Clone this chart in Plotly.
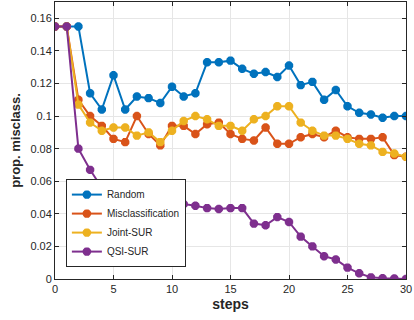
import plotly.graph_objects as go

steps = list(range(31))

random_vals = [0.155, 0.155, 0.155, 0.114, 0.104, 0.125, 0.104, 0.112, 0.111, 0.108,
               0.118, 0.112, 0.114, 0.133, 0.133, 0.134, 0.129, 0.126, 0.127, 0.124,
               0.131, 0.119, 0.121, 0.110, 0.116, 0.106, 0.102, 0.101, 0.099, 0.100,
               0.100]
miscl_vals = [0.155, 0.155, 0.110, 0.100, 0.094, 0.086, 0.084, 0.100, 0.089, 0.082,
              0.094, 0.094, 0.089, 0.095, 0.096, 0.089, 0.086, 0.085, 0.093, 0.083,
              0.083, 0.087, 0.089, 0.087, 0.091, 0.087, 0.086, 0.086, 0.087, 0.076,
              0.075]
joint_vals = [0.155, 0.155, 0.107, 0.096, 0.091, 0.093, 0.093, 0.088, 0.090, 0.084,
              0.091, 0.097, 0.100, 0.098, 0.094, 0.094, 0.091, 0.098, 0.100, 0.106,
              0.106, 0.096, 0.091, 0.088, 0.088, 0.086, 0.083, 0.082, 0.078, 0.077,
              0.075]
qsi_vals = [0.155, 0.155, 0.080, 0.067, 0.056, 0.054, 0.0515, 0.0515, 0.050, 0.050,
            0.048, 0.046, 0.045, 0.0435, 0.043, 0.0435, 0.0435, 0.034, 0.033, 0.038,
            0.035, 0.026, 0.020, 0.014, 0.012, 0.007, 0.0035, 0.001, 0.0005, 0.0003,
            0.0]

series = [("Random", random_vals, "#0072BD"),
          ("Misclassification", miscl_vals, "#D95319"),
          ("Joint-SUR", joint_vals, "#EDB120"),
          ("QSI-SUR", qsi_vals, "#7E2F8E")]

yticks = [0, 0.02, 0.04, 0.06, 0.08, 0.1, 0.12, 0.14, 0.16]
yticklabels = ["0", "0.02", "0.04", "0.06", "0.08", "0.1", "0.12", "0.14", "0.16"]
xticks = [0, 5, 10, 15, 20, 25, 30]

fig = go.Figure()
for name, vals, col in series:
    fig.add_trace(go.Scatter(
        x=steps, y=vals, name=name, mode="lines+markers",
        line=dict(color=col, width=2),
        marker=dict(symbol="asterisk-open", size=7, color=col,
                    line=dict(color=col, width=3)),
    ))

axis_common = dict(
    showline=True, linecolor="#262626", linewidth=1, mirror="ticks",
    ticks="inside", ticklen=4, tickcolor="#262626", automargin=False,
    showgrid=True, gridcolor="#e6e6e6", gridwidth=1, zeroline=False,
    tickfont=dict(family="Liberation Sans, Arial", size=11, color="#262626"),
)

fig.update_xaxes(range=[0, 30], tickvals=xticks,
                 title=dict(text="<b>steps</b>", standoff=4,
                            font=dict(family="Liberation Sans, Arial", size=14, color="#262626")),
                 **axis_common)
fig.update_yaxes(range=[0, 0.17], tickvals=yticks, ticktext=yticklabels,
                 title=dict(text="<b>prop. misclass.</b>", standoff=6,
                            font=dict(family="Liberation Sans, Arial", size=13, color="#262626")),
                 **axis_common)

fig.update_layout(
    width=414, height=320,
    margin=dict(l=55, r=8, t=2, b=41),
    plot_bgcolor="white", paper_bgcolor="white",
    legend=dict(x=0.031, y=0.043, xanchor="left", yanchor="bottom",
                bgcolor="white", bordercolor="#262626", borderwidth=1,
                font=dict(family="Liberation Sans, Arial", size=10, color="#262626"),
                tracegroupgap=0, itemwidth=30),
)

# page body has a default 8px margin; drop it so the figure sits at the corner
fig.write_html("out.html", config={"displayModeBar": False},
               post_script="document.body.style.margin='0px';")
